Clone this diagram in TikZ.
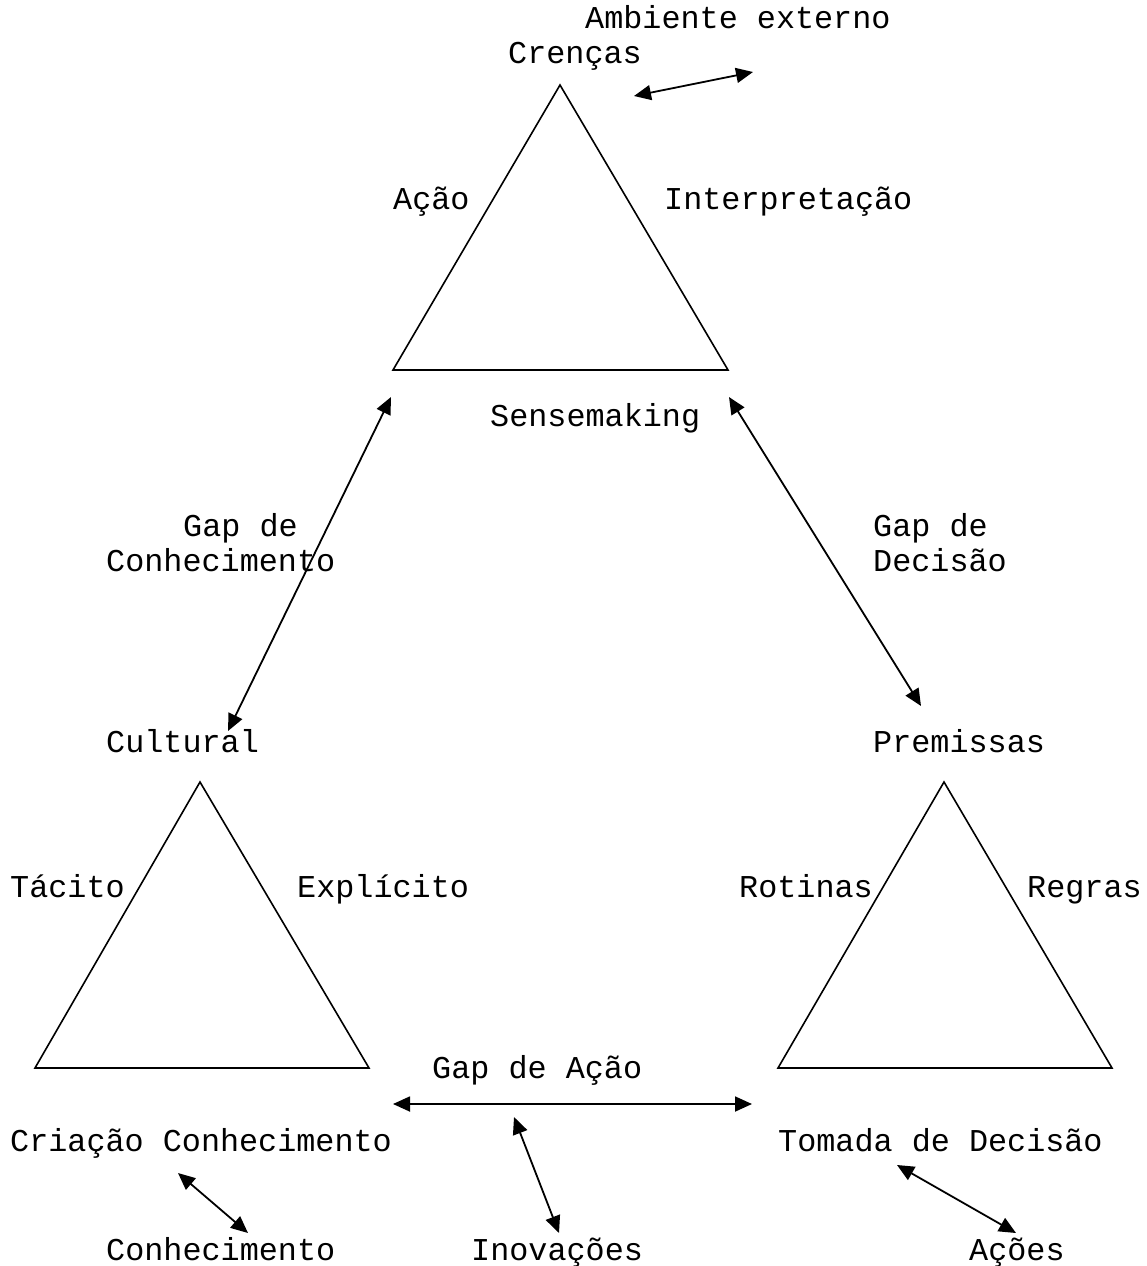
\documentclass[tikz,border=0pt]{standalone}
\usepackage{fontspec}
\setmonofont{Liberation Mono}
\usetikzlibrary{arrows.meta}

\begin{document}
\begin{tikzpicture}[
  x=1pt, y=-1pt,
  lbl/.style={anchor=base west, inner sep=0pt, font=\fontsize{31.8}{36}\selectfont\ttfamily},
  tri/.style={draw=black, line width=1.6pt, line join=miter},
  arrow/.style={{Triangle[length=17pt,width=15pt]}-{Triangle[length=17pt,width=15pt]}, line width=1.8pt}
]
  \useasboundingbox (0,0) rectangle (1146,1266);
  % triangles
  \draw[tri] (560,85) -- (728,370) -- (393,370) -- cycle;
  \draw[tri] (200,782) -- (369,1068) -- (35,1068) -- cycle;
  \draw[tri] (944,782) -- (1112,1068) -- (778,1068) -- cycle;
  % labels
  \node[lbl] (amb) at (585,28) {Ambiente externo};
  \node[lbl] (crencas) at (508,63) {Crenças};
  \node[lbl] (acao) at (393,209) {Ação};
  \node[lbl] (interp) at (664,209) {Interpretação};
  \node[lbl] (sense) at (490,426) {Sensemaking};
  \node[lbl] (gapk) at (183,536) {Gap de};
  \node[lbl] (gapkb) at (106,571) {Conhecimento};
  \node[lbl] (gapd) at (873,536) {Gap de};
  \node[lbl] (gapdb) at (873,571) {Decisão};
  \node[lbl] (cultural) at (106,752) {Cultural};
  \node[lbl] (premissas) at (873,752) {Premissas};
  \node[lbl] (tacito) at (10,897) {Tácito};
  \node[lbl] (explicito) at (297,897) {Explícito};
  \node[lbl] (rotinas) at (739,897) {Rotinas};
  \node[lbl] (regras) at (1027,897) {Regras};
  \node[lbl] (gapa) at (432,1078) {Gap de Ação};
  \node[lbl] (criacao) at (10,1151) {Criação Conhecimento};
  \node[lbl] (tomada) at (778,1151) {Tomada de Decisão};
  \node[lbl] (conhec) at (106,1260) {Conhecimento};
  \node[lbl] (inov) at (471,1260) {Inovações};
  \node[lbl] (acoes) at (969,1260) {Ações};
  % arrow ends
  \coordinate (amb1) at (634,96);
  \coordinate (amb2) at (753,72);
  \coordinate (sk1) at (391,397);
  \coordinate (sk2) at (228,731);
  \coordinate (sd1) at (729,397);
  \coordinate (sd2) at (921,706);
  \coordinate (ga1) at (393,1104);
  \coordinate (ga2) at (752,1104);
  \coordinate (cc1) at (178,1173);
  \coordinate (cc2) at (248,1233);
  \coordinate (in1) at (514,1117);
  \coordinate (in2) at (559,1233);
  \coordinate (td1) at (897,1165);
  \coordinate (td2) at (1016,1233);
  % arrows
  \draw[arrow] (amb1) -- (amb2);
  \draw[arrow] (sk1) -- (sk2);
  \draw[arrow] (sd1) -- (sd2);
  \draw[arrow] (ga1) -- (ga2);
  \draw[arrow] (cc1) -- (cc2);
  \draw[arrow] (in1) -- (in2);
  \draw[arrow] (td1) -- (td2);
\end{tikzpicture}
\end{document}
